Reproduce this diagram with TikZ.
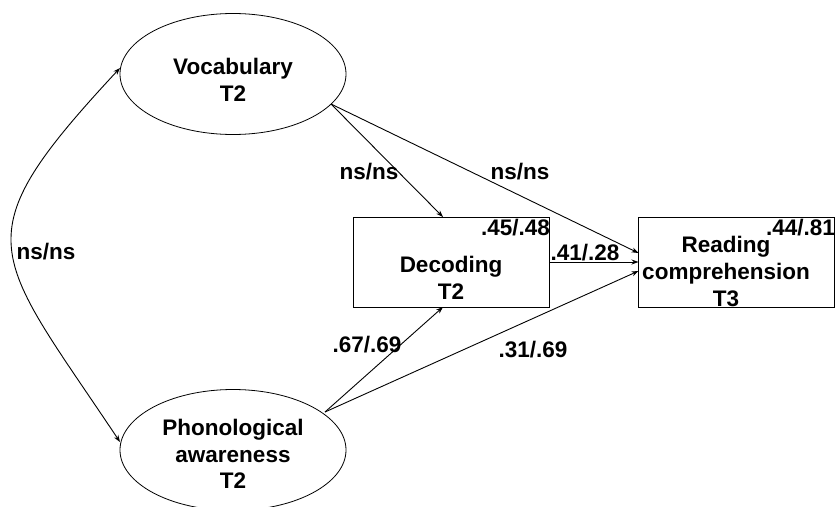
\documentclass[tikz,border=0pt]{standalone}
\usepackage{fontspec}
\setmainfont{Liberation Sans}
\usetikzlibrary{shapes.geometric,arrows.meta}
\begin{document}
\begin{tikzpicture}[x=1pt,y=-1pt,
  every node/.style={inner sep=0pt, outer sep=0pt},
  txt/.style={align=center, font=\fontsize{22.5}{26.8}\selectfont\bfseries},
  coef/.style={font=\fontsize{22.5}{26.8}\selectfont\bfseries},
  latent/.style={draw, line width=0.8pt, ellipse, minimum width=226pt, minimum height=121pt},
  observed/.style={draw, line width=0.8pt, rectangle, minimum width=196pt, minimum height=90pt},
  arr/.style={line width=0.9pt, -{Stealth[length=7pt,width=5pt]}},
  darr/.style={line width=0.9pt, {Stealth[length=7pt,width=5pt]}-{Stealth[length=7pt,width=5pt]}}]
\path[use as bounding box, fill=white] (0,0) rectangle (835,506);

% latent constructs
\node[latent] (voc) at (233,74) {};
\node[latent] (pa) at (233,450) {};
\node[txt] (voclbl) at (233,80) {Vocabulary\\T2};
\node[txt] (palbl) at (233,454) {Phonological\\awareness\\T2};

% observed measures
\node[observed] (dec) at (451,262) {};
\node[observed] (rc) at (736.5,262) {};
\node[txt] (declbl) at (451,277.5) {Decoding\\T2};
\node[txt] (rclbl) at (726,271.5) {Reading\\comprehension\\T3};

% explained variance
\node[coef, anchor=base east] (r2dec) at (550,235) {.45/.48};
\node[coef, anchor=base east] (r2rc) at (835,235) {.44/.81};

% path origins on the ellipses
\coordinate (vocout) at (331,104);
\coordinate (paout) at (325,412);
\coordinate (vocin) at (120,68);
\coordinate (pain) at (120,442);

% structural paths
\draw[arr] (vocout) -- ([xshift=-8pt]dec.north);
\draw[arr] (vocout) -- ([yshift=9pt]rc.west);
\draw[arr] (dec.east) -- (rc.west);
\draw[arr] (paout) -- ([xshift=-8pt]dec.south);
\draw[arr] (paout) -- ([yshift=-9pt]rc.west);

% covariance between the latent constructs
\draw[darr] (vocin) .. controls (-40,240) and (-8,250) .. (pain);

% path coefficients
\node[coef] (cov) at (46,252) {ns/ns};
\node[coef] (vd) at (369,172) {ns/ns};
\node[coef] (vr) at (520,172) {ns/ns};
\node[coef] (dr) at (585,253) {.41/.28};
\node[coef] (pd) at (367,345) {.67/.69};
\node[coef] (pr) at (533,350) {.31/.69};
\end{tikzpicture}
\end{document}
